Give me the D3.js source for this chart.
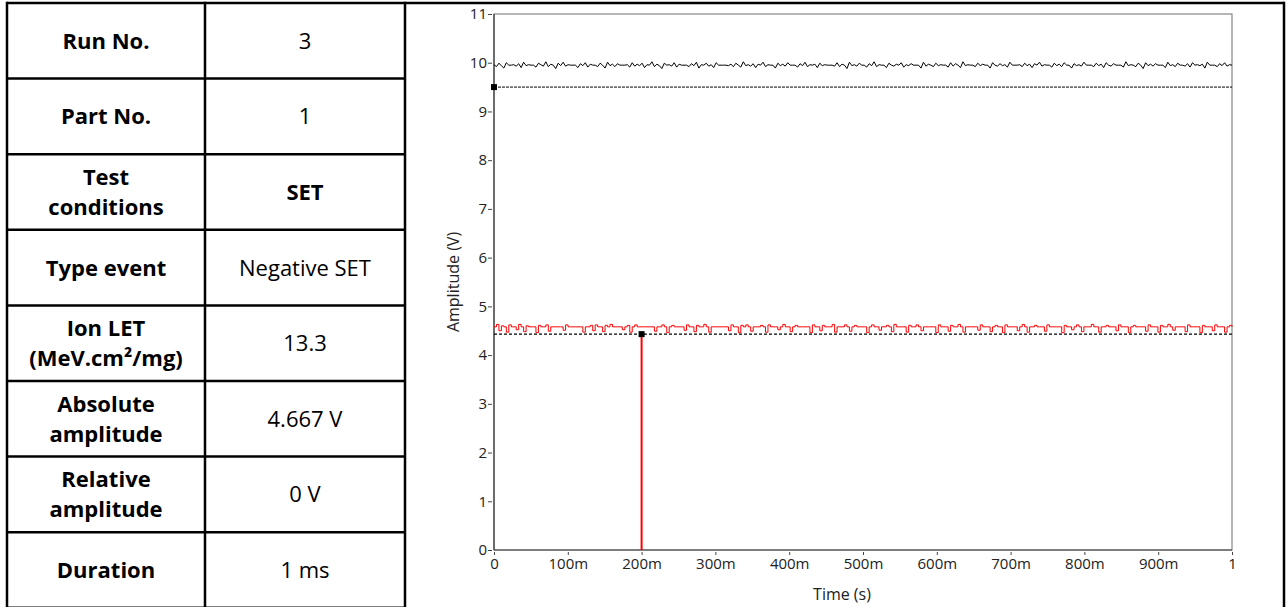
<!DOCTYPE html>
<html>
<head>
<meta charset="utf-8">
<script src="https://cdn.jsdelivr.net/npm/d3@7"></script>
<style>
	body { margin: 0; background: #fff; }
	svg { display: block; }
	.cell-label { font-family: 'Open Sans', sans-serif; font-weight: 700; font-size: 22px; fill: #000; }
	.cell-value { font-family: 'Open Sans', sans-serif; font-size: 22px; fill: #000; }
	.axis text { font-family: 'Open Sans', sans-serif; font-size: 15px; fill: #222; }
	.axis-title { font-family: 'Open Sans', sans-serif; font-size: 16px; fill: #222; }
</style>
</head>
<body>
<script>
const WIDTH = 1287;
const HEIGHT = 607;

// table rows: label lines + value
const LABELS = [
	['Run No.'],
	['Part No.'],
	['Test', 'conditions'],
	['Type event'],
	['Ion LET', '(MeV.cm²/mg)'],
	['Absolute', 'amplitude'],
	['Relative', 'amplitude'],
	['Duration']
];
const VALUES = ['3', '1', 'SET', 'Negative SET', '13.3', '4.667 V', '0 V', '1 ms'];
const BOLD_VALUES = ['SET'];

// chart
const Y_TICKS = [0, 1, 2, 3, 4, 5, 6, 7, 8, 9, 10, 11];
const X_TICKS = [0, 0.1, 0.2, 0.3, 0.4, 0.5, 0.6, 0.7, 0.8, 0.9, 1];
const X_TICK_LABELS = ['0', '100m', '200m', '300m', '400m', '500m', '600m', '700m', '800m', '900m', '1'];

// black trace (V), evenly sampled over 0..1 s
const BLACK = [
	9.96, 9.92, 9.99, 9.94, 9.89, 10.00, 9.95, 9.95, 9.96, 9.93, 9.98, 9.90, 10.01, 9.94, 9.96, 9.95, 9.95, 9.91, 9.99, 9.96,
	9.93, 10.02, 9.92, 9.97, 9.95, 9.88, 9.99, 9.94, 10.01, 9.93, 9.96, 9.95, 9.95, 9.95, 9.90, 9.98, 9.94, 10.00, 9.91, 9.97,
	9.95, 9.95, 9.92, 9.99, 9.95, 9.89, 10.01, 9.94, 9.97, 9.92, 9.98, 9.95, 9.95, 9.95, 9.96, 9.91, 10.00, 9.93, 9.97, 9.94,
	9.99, 9.90, 9.96, 9.95, 10.02, 9.92, 9.97, 9.94, 9.88, 9.99, 9.95, 9.96, 9.93, 10.00, 9.91, 9.97, 9.95, 9.95, 9.95, 9.92,
	9.98, 9.94, 10.01, 9.89, 9.96, 9.95, 9.99, 9.93, 9.96, 9.90, 10.00, 9.95, 9.95, 9.95, 9.95, 9.94, 9.97, 9.92, 9.99, 9.95,
	9.91, 10.02, 9.94, 9.96, 9.93, 9.98, 9.90, 9.97, 9.95, 10.01, 9.92, 9.96, 9.95, 9.95, 9.89, 9.99, 9.94, 9.97, 9.93, 10.00,
	9.95, 9.95, 9.95, 9.91, 9.98, 9.94, 10.01, 9.92, 9.96, 9.95, 9.97, 9.90, 9.99, 9.94, 9.96, 9.95, 9.95, 9.95, 9.93, 10.00,
	9.92, 9.97, 9.95, 9.88, 10.01, 9.94, 9.96, 9.93, 9.99, 9.95, 9.95, 9.91, 9.98, 9.94, 10.02, 9.92, 9.96, 9.95, 9.95, 9.90,
	9.99, 9.95, 9.93, 9.97, 9.95, 10.00, 9.91, 9.96, 9.94, 9.98, 9.95, 9.95, 9.95, 9.89, 10.01, 9.93, 9.97, 9.95, 9.92, 9.99,
	9.94, 9.96, 9.95, 9.95, 9.91, 10.00, 9.93, 9.98, 9.95, 9.90, 10.02, 9.94, 9.96, 9.95, 9.95, 9.92, 9.99, 9.94, 9.97, 9.95,
	9.95, 9.89, 10.00, 9.95, 9.93, 9.98, 9.94, 9.96, 9.91, 10.01, 9.95, 9.95, 9.95, 9.96, 9.92, 9.99, 9.94, 9.97, 9.90, 9.98,
	9.95, 10.01, 9.93, 9.96, 9.95, 9.95, 9.91, 9.99, 9.94, 9.97, 9.92, 10.00, 9.95, 9.95, 9.89, 9.98, 9.94, 9.96, 9.93, 10.01,
	9.95, 9.95, 9.95, 9.92, 9.99, 9.94, 9.97, 9.90, 10.00, 9.95, 9.93, 9.98, 9.95, 9.95, 9.95, 9.91, 10.02, 9.94, 9.96, 9.95,
	9.92, 9.99, 9.95, 9.88, 10.00, 9.94, 9.97, 9.93, 9.98, 9.95, 9.95, 9.95, 9.90, 10.01, 9.94, 9.96, 9.92, 9.99, 9.95, 9.95,
	9.93, 9.98, 9.91, 10.00, 9.95, 9.96, 9.94, 9.97, 9.89, 10.01, 9.95, 9.95, 9.95, 9.92, 9.98, 9.94, 10.00, 9.93, 9.96, 9.95
];

// red trace (V), evenly sampled over 0..1 s
const RED = [
	4.58, 4.63, 4.50, 4.60, 4.58, 4.47, 4.62, 4.58, 4.58, 4.52, 4.63, 4.58, 4.48, 4.60, 4.58, 4.58, 4.58, 4.46, 4.61, 4.58,
	4.58, 4.62, 4.49, 4.58, 4.58, 4.58, 4.58, 4.58, 4.51, 4.62, 4.58, 4.58, 4.58, 4.58, 4.58, 4.58, 4.47, 4.58, 4.58, 4.61,
	4.50, 4.62, 4.58, 4.58, 4.48, 4.61, 4.58, 4.63, 4.58, 4.58, 4.58, 4.58, 4.52, 4.58, 4.61, 4.47, 4.58, 4.62, 4.58, 4.58,
	4.58, 4.58, 4.58, 4.58, 4.58, 4.49, 4.58, 4.58, 4.62, 4.58, 4.46, 4.58, 4.61, 4.58, 4.58, 4.58, 4.58, 4.51, 4.62, 4.58,
	4.58, 4.48, 4.61, 4.58, 4.58, 4.63, 4.58, 4.47, 4.58, 4.58, 4.58, 4.58, 4.58, 4.58, 4.58, 4.50, 4.62, 4.58, 4.58, 4.46,
	4.61, 4.58, 4.62, 4.58, 4.49, 4.58, 4.58, 4.58, 4.61, 4.58, 4.47, 4.62, 4.58, 4.58, 4.58, 4.52, 4.58, 4.63, 4.58, 4.58,
	4.48, 4.58, 4.61, 4.58, 4.58, 4.58, 4.58, 4.58, 4.46, 4.62, 4.58, 4.58, 4.50, 4.61, 4.58, 4.58, 4.58, 4.63, 4.47, 4.58,
	4.58, 4.58, 4.62, 4.58, 4.49, 4.58, 4.61, 4.58, 4.58, 4.58, 4.58, 4.46, 4.58, 4.62, 4.58, 4.58, 4.51, 4.58, 4.58, 4.61,
	4.58, 4.48, 4.63, 4.58, 4.58, 4.58, 4.58, 4.47, 4.61, 4.58, 4.58, 4.62, 4.58, 4.50, 4.58, 4.58, 4.58, 4.58, 4.58, 4.46,
	4.62, 4.58, 4.58, 4.58, 4.49, 4.61, 4.58, 4.58, 4.63, 4.58, 4.47, 4.58, 4.58, 4.58, 4.58, 4.58, 4.51, 4.62, 4.58, 4.58,
	4.58, 4.48, 4.58, 4.61, 4.58, 4.58, 4.46, 4.62, 4.58, 4.58, 4.58, 4.58, 4.50, 4.58, 4.63, 4.58, 4.47, 4.58, 4.58, 4.61,
	4.58, 4.58, 4.58, 4.49, 4.62, 4.58, 4.58, 4.58, 4.58, 4.58, 4.46, 4.61, 4.58, 4.58, 4.52, 4.58, 4.62, 4.58, 4.48, 4.58,
	4.58, 4.58, 4.63, 4.58, 4.58, 4.47, 4.58, 4.58, 4.61, 4.58, 4.58, 4.58, 4.50, 4.62, 4.58, 4.58, 4.58, 4.46, 4.58, 4.61,
	4.58, 4.58, 4.58, 4.58, 4.49, 4.62, 4.58, 4.58, 4.58, 4.47, 4.61, 4.58, 4.58, 4.63, 4.58, 4.51, 4.58, 4.58, 4.58, 4.58,
	4.48, 4.62, 4.58, 4.58, 4.58, 4.58, 4.46, 4.61, 4.58, 4.58, 4.58, 4.50, 4.62, 4.58, 4.58, 4.58, 4.47, 4.58, 4.61, 4.58
];

// cursor levels and the SET drop
const BLACK_CURSOR = { t: 0, v: 9.5 };
const RED_CURSOR = { t: 0.2, v: 4.43 };
const RED_DROP = [{ t: 0.2, v: 4.43 }, { t: 0.2, v: 0 }];

const svg = d3.select('body').append('svg')
	.attr('width', WIDTH)
	.attr('height', HEIGHT);

// ---- table ----
const TABLE_LEFT = 7;
const TABLE_MID = 205;
const TABLE_RIGHT = 405;
const OUTER_RIGHT = 1284;
const TABLE_TOP = 3;
const ROW_H = 75.6;

const rowY = d3.scaleLinear().domain([0, LABELS.length]).range([TABLE_TOP, TABLE_TOP + ROW_H * LABELS.length]);

const grid = svg.append('g').attr('class', 'grid')
	.attr('stroke', '#000')
	.attr('stroke-width', 2.5);

grid.selectAll('.row-line')
	.data(d3.range(LABELS.length + 1))
	.join('line')
	.attr('x1', TABLE_LEFT)
	.attr('x2', TABLE_RIGHT)
	.attr('y1', d => rowY(d))
	.attr('y2', d => rowY(d));

grid.append('line')
	.attr('x1', TABLE_RIGHT).attr('x2', OUTER_RIGHT)
	.attr('y1', TABLE_TOP).attr('y2', TABLE_TOP);

[TABLE_LEFT, TABLE_MID, TABLE_RIGHT, OUTER_RIGHT].forEach(x => {
	grid.append('line')
		.attr('x1', x).attr('x2', x)
		.attr('y1', TABLE_TOP - 1.25).attr('y2', HEIGHT + 5);
});

const LINE_H = 30;
const rows = svg.append('g').selectAll('.row')
	.data(LABELS.map((l, i) => ({ label: l, value: VALUES[i], i })))
	.join('g')
	.attr('class', 'row');

rows.append('text')
	.attr('class', 'cell-label')
	.attr('text-anchor', 'middle')
	.attr('x', (TABLE_LEFT + TABLE_MID) / 2)
	.attr('y', d => (rowY(d.i) + rowY(d.i + 1)) / 2 - (d.label.length - 1) * LINE_H / 2 + 8)
	.selectAll('tspan')
	.data(d => d.label)
	.join('tspan')
	.attr('x', (TABLE_LEFT + TABLE_MID) / 2)
	.attr('dy', (d, i) => (i ? LINE_H : 0))
	.text(d => d);

rows.append('text')
	.attr('class', 'cell-value')
	.attr('text-anchor', 'middle')
	.attr('x', (TABLE_MID + TABLE_RIGHT) / 2)
	.attr('y', d => (rowY(d.i) + rowY(d.i + 1)) / 2 + 8)
	.style('font-weight', d => (BOLD_VALUES.includes(d.value) ? 700 : 400))
	.text(d => d.value);

// ---- chart ----
const PLOT = { left: 494, right: 1232, top: 14, bottom: 550 };

const x = d3.scaleLinear().domain([0, 1]).range([PLOT.left, PLOT.right]);
const y = d3.scaleLinear().domain([0, 11]).range([PLOT.bottom, PLOT.top]);

const chart = svg.append('g').attr('class', 'chart');

// frame
chart.append('rect')
	.attr('x', PLOT.left)
	.attr('y', PLOT.top)
	.attr('width', PLOT.right - PLOT.left)
	.attr('height', PLOT.bottom - PLOT.top)
	.attr('fill', 'none')
	.attr('stroke', '#6e6e6e')
	.attr('stroke-width', 1);

const axisY = d3.axisLeft(y)
	.tickValues(Y_TICKS)
	.tickFormat(d3.format('d'))
	.tickSizeInner(4)
	.tickSizeOuter(0)
	.tickPadding(1);

chart.append('g')
	.attr('class', 'axis axis--y')
	.attr('transform', `translate(${PLOT.left - 2}, 0)`)
	.call(axisY)
	.call(g => g.select('.domain').remove())
	.call(g => g.selectAll('.tick line').attr('stroke', '#444'));

chart.append('line')
	.attr('x1', PLOT.left).attr('x2', PLOT.left)
	.attr('y1', PLOT.top).attr('y2', PLOT.bottom)
	.attr('stroke', '#222');

const axisX = d3.axisBottom(x)
	.tickValues(X_TICKS)
	.tickFormat((d, i) => X_TICK_LABELS[i])
	.tickSizeInner(3)
	.tickSizeOuter(0)
	.tickPadding(3);

chart.append('g')
	.attr('class', 'axis axis--x')
	.attr('transform', `translate(0, ${PLOT.bottom + 2})`)
	.call(axisX)
	.call(g => g.select('.domain').remove())
	.call(g => g.selectAll('.tick line').attr('stroke', '#444'));

chart.append('line')
	.attr('x1', PLOT.left).attr('x2', PLOT.right)
	.attr('y1', PLOT.bottom).attr('y2', PLOT.bottom)
	.attr('stroke', '#444');

chart.append('text')
	.attr('class', 'axis-title')
	.attr('text-anchor', 'middle')
	.attr('x', 842)
	.attr('y', 600)
	.text('Time (s)');

chart.append('text')
	.attr('class', 'axis-title')
	.attr('text-anchor', 'middle')
	.attr('transform', `translate(459, ${(PLOT.top + PLOT.bottom) / 2}) rotate(-90)`)
	.text('Amplitude (V)');

// cursor lines
chart.append('line')
	.attr('x1', x(0)).attr('x2', x(1))
	.attr('y1', y(BLACK_CURSOR.v)).attr('y2', y(BLACK_CURSOR.v))
	.attr('stroke', '#000')
	.attr('stroke-width', 1)
	.attr('stroke-dasharray', '3,1');

chart.append('line')
	.attr('x1', x(0)).attr('x2', x(1))
	.attr('y1', y(RED_CURSOR.v)).attr('y2', y(RED_CURSOR.v))
	.attr('stroke', '#000')
	.attr('stroke-width', 1.2)
	.attr('stroke-dasharray', '3,2');

// traces
const blackLine = d3.line()
	.x((d, i) => x(i / (BLACK.length - 1)))
	.y(d => y(d));

chart.append('path')
	.datum(BLACK)
	.attr('fill', 'none')
	.attr('stroke', '#000')
	.attr('stroke-width', 1)
	.attr('d', blackLine);

const redLine = d3.line()
	.x((d, i) => x(i / (RED.length - 1)))
	.y(d => y(d))
	.curve(d3.curveStepAfter);

chart.append('path')
	.datum(RED)
	.attr('fill', 'none')
	.attr('stroke', '#ff0000')
	.attr('stroke-width', 1)
	.attr('d', redLine);

chart.append('path')
	.datum(RED_DROP)
	.attr('fill', 'none')
	.attr('stroke', '#ff0000')
	.attr('stroke-width', 2)
	.attr('d', d3.line().x(d => x(d.t)).y(d => y(d.v)));

// cursor markers
chart.selectAll('.marker')
	.data([BLACK_CURSOR, RED_CURSOR])
	.join('rect')
	.attr('class', 'marker')
	.attr('x', d => x(d.t) - 3)
	.attr('y', d => y(d.v) - 3)
	.attr('width', 6)
	.attr('height', 6)
	.attr('fill', '#000');
</script>
</body>
</html>
